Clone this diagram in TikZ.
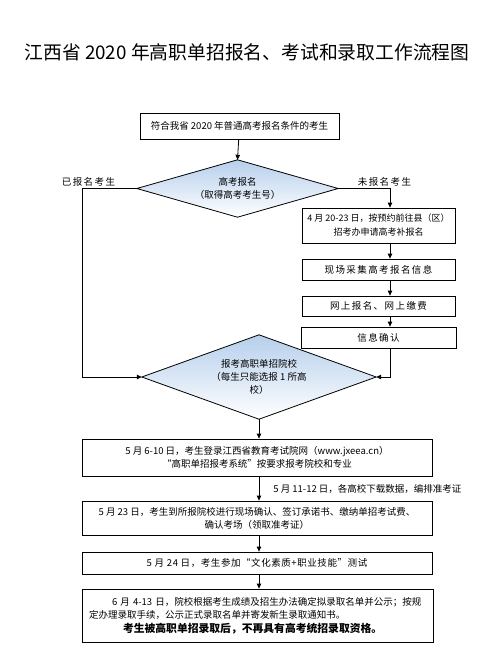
\documentclass[tikz,border=0pt]{standalone}
\usepackage{fontspec}
\setmainfont{Noto Sans CJK SC}
\newfontfamily\spfont[LetterSpace=15]{Noto Sans CJK SC}
\newfontfamily\spfontb[LetterSpace=6]{Noto Sans CJK SC}
\usetikzlibrary{arrows.meta,backgrounds}
\newcommand{\fsz}[2]{\fontsize{#1}{#2}\selectfont}
\tikzset{
  box/.style={draw, line width=0.8pt, inner sep=0pt, align=center, font=\fsz{9.5}{13}},
  diatext/.style={inner sep=0pt, align=center, font=\fsz{9.5}{12.5}},
  diafill/.style={draw, line width=0.8pt,
    top color={rgb,255:red,182;green,207;blue,236}, bottom color=white},
  arr/.style={line width=0.8pt, -{Triangle[length=5pt,width=4.5pt]}},
  lbl/.style={font=\fsz{9.5}{12}, inner sep=0pt}
}
\begin{document}
\begin{tikzpicture}[x=1pt,y=-1pt]
\useasboundingbox (0,0) rectangle (490,654);
\node[font=\fsz{18.8}{20}, inner sep=0pt] (title) at (247,52) {江西省 2020 年高职单招报名、考试和录取工作流程图};

\node[box, minimum width=199pt, minimum height=26pt] (b1) at (239.5,126) {符合我省 2020 年普通高考报名条件的考生};
\node[diatext, minimum width=201pt, minimum height=57pt] (d1) at (237.5,188.5) {高考报名\\（取得高考考生号）};

\node[box, minimum width=153pt, minimum height=35pt, font=\fsz{9}{14}] (b2) at (378.5,225.5) {4 月 20-23 日，按预约前往县（区）\\招考办申请高考补报名};
\node[box, minimum width=153pt, minimum height=21pt, font=\spfont\fsz{9.5}{12}] (b3) at (378.5,269.5) {现场采集高考报名信息};
\node[box, minimum width=153pt, minimum height=20pt, font=\spfont\fsz{9.5}{12}] (b4) at (378.5,306) {网上报名、网上缴费};
\node[box, minimum width=155pt, minimum height=21pt, font=\spfont\fsz{9.5}{12}] (b5) at (378.5,337.5) {信息确认};

\node[diatext, minimum width=234pt, minimum height=84pt, font=\fsz{9.5}{13}] (d2) at (259,377) {报考高职单招院校\\（每生只能选报 1 所高\\校）};

\begin{pgfonlayer}{background}
\path[diafill] (d1.north) -- (d1.east) -- (d1.south) -- (d1.west) -- cycle;
\path[diafill] (d2.north) -- (d2.east) -- (d2.south) -- (d2.west) -- cycle;
\end{pgfonlayer}

\node[box, minimum width=350pt, minimum height=37pt] (b6) at (257,457.5) {5 月 6-10 日，考生登录江西省教育考试院网（www.jxeea.cn）\\“高职单招报考系统”按要求报考院校和专业};
\node[box, minimum width=350pt, minimum height=34pt] (b7) at (257,518) {5 月 23 日，考生到所报院校进行现场确认、签订承诺书、缴纳单招考试费、\\确认考场（领取准考证）};
\node[box, minimum width=350pt, minimum height=22pt, font=\spfontb\fsz{9.5}{12}] (b8) at (257,563) {5 月 24 日，考生参加“文化素质+职业技能”测试};
\node[box, minimum width=351pt, minimum height=53pt, text width=337pt, align=left, font=\fsz{9.5}{13.5}] (b9) at (257.5,615.5) {\hspace*{23pt}6 月 4-13 日，院校根据考生成绩及招生办法确定拟录取名单并公示；按规\\定办理录取手续，公示正式录取名单并寄发新生录取通知书。\\\hspace*{34pt}{\bfseries\fsz{10.8}{13}考生被高职单招录取后，不再具有高考统招录取资格。}};

\coordinate (rx) at (390,0);
\coordinate (lx) at (82,0);

\node[lbl, font=\spfont\fsz{9.5}{12}] (l1) at (88.5,182) {已报名考生};
\node[lbl, font=\spfont\fsz{9.5}{12}] (l2) at (384.5,182) {未报名考生};

\draw[arr] (b1) -- (d1.north);
\draw[arr] (d1.west) -- (d1.west -| lx) -- (d2.west -| lx) -- (d2.west);
\draw[arr] (d1.east) -| (b2.north -| rx);
\draw[arr] (b2.south -| rx) -- (b3.north -| rx);
\draw[arr] (b3.south -| rx) -- (b4.north -| rx);
\draw[arr] (b4.south -| rx) -- (b5.north -| rx);
\draw[arr] (b5.south -| rx) |- (d2.east);
\draw[arr] (d2.south) -- (b6.north -| d2.south);
\draw[arr] (b6.south -| d2.south) -- (b7.north -| d2.south)
  node[midway, anchor=west, xshift=14pt, lbl] (l3) {5 月 11-12 日，各高校下载数据，编排准考证};
\draw[arr] (b7.south -| d2.south) -- (b8.north -| d2.south);
\draw[arr] (b8.south -| d2.south) -- (b9.north -| d2.south);
\end{tikzpicture}
\end{document}
